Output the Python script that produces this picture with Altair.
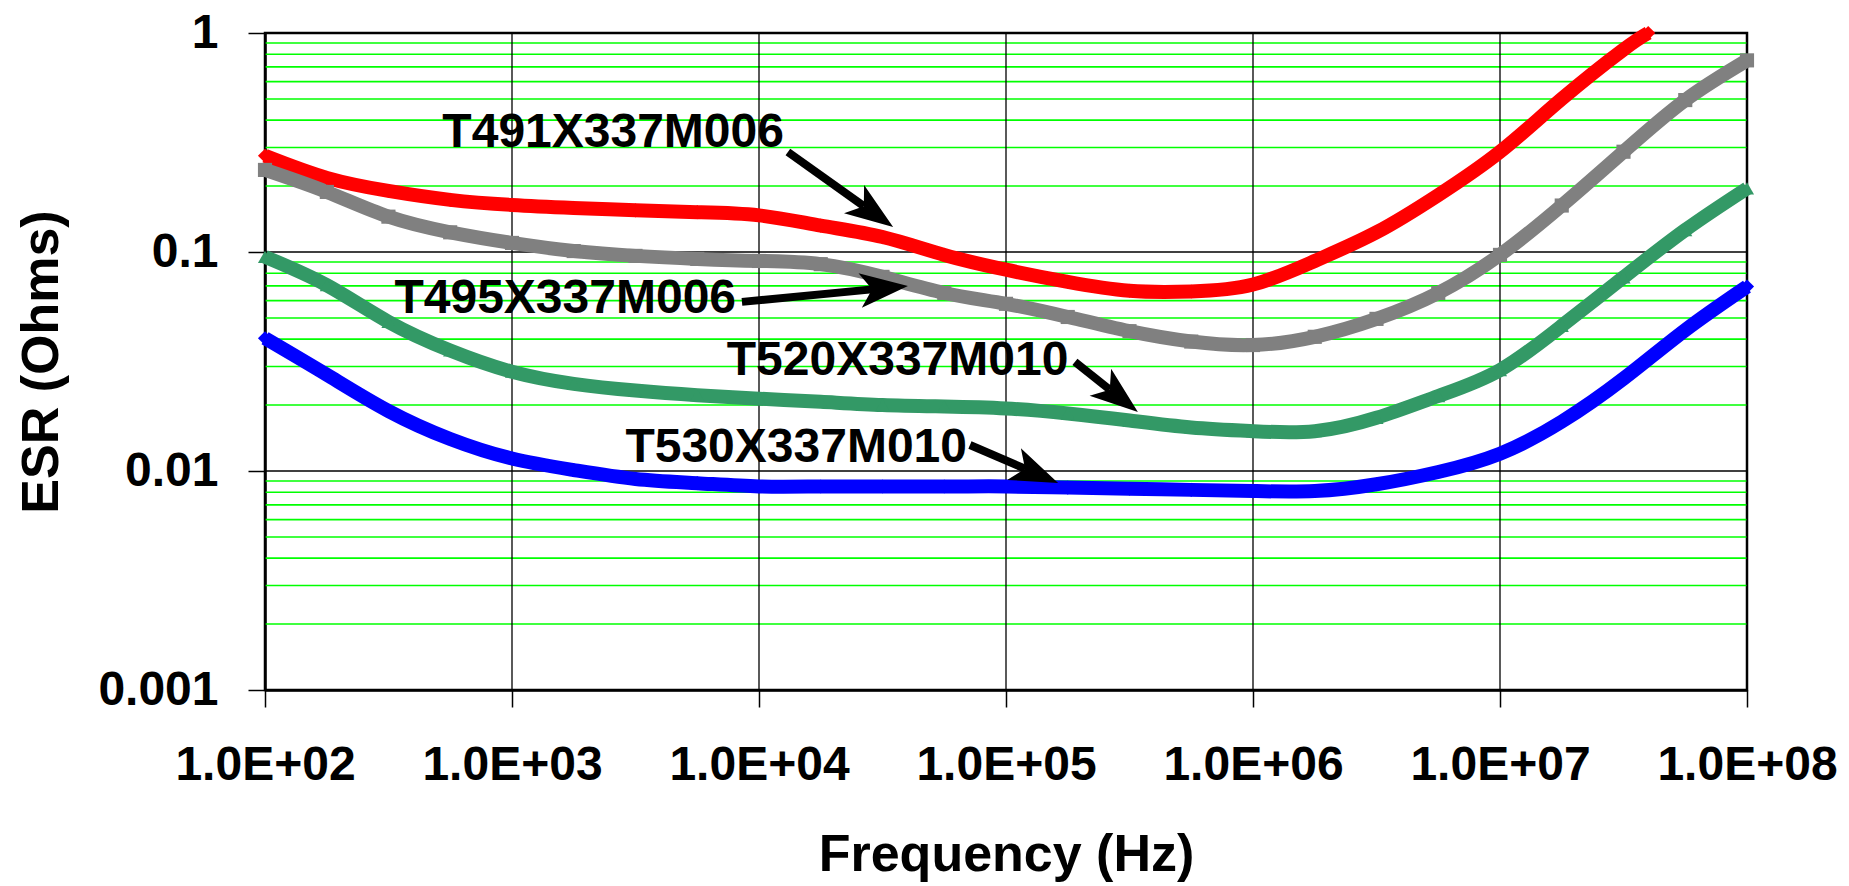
import math
import altair as alt
import pandas as pd

# ---------------- data ----------------
freq_hz = [100, 178, 316, 562, 1000, 1778, 3162, 5623, 10000, 17783, 31623, 56234,
           100000, 177828, 316228, 562341, 1000000, 1778279, 3162278, 5623413,
           10000000, 17782794, 31622777, 56234133, 100000000]
freq_t491 = freq_hz[:23] + [39810717]

esr_t491 = [0.275, 0.218, 0.19, 0.173, 0.164, 0.159, 0.155, 0.152, 0.147, 0.132, 0.117,
            0.097, 0.083, 0.073, 0.0665, 0.066, 0.071, 0.091, 0.123, 0.182, 0.287,
            0.50, 0.84, 1.0]
esr_t495 = [0.237, 0.188, 0.145, 0.123, 0.110, 0.101, 0.096, 0.093, 0.091, 0.088, 0.077,
            0.065, 0.058, 0.0505, 0.0435, 0.039, 0.0376, 0.041, 0.0495, 0.065, 0.097,
            0.163, 0.287, 0.494, 0.75]
esr_t520 = [0.095, 0.0705, 0.048, 0.0355, 0.0284, 0.025, 0.0233, 0.0222, 0.0214, 0.0207,
            0.0200, 0.0197, 0.0193, 0.0183, 0.0170, 0.0158, 0.0152, 0.0152, 0.0175, 0.022,
            0.0289, 0.046, 0.0766, 0.126, 0.195]
esr_t530 = [0.0404, 0.0275, 0.0188, 0.0140, 0.0114, 0.0101, 0.0092, 0.0088, 0.0085, 0.0085,
            0.0085, 0.0085, 0.0085, 0.0084, 0.0083, 0.0082, 0.0081, 0.0081, 0.0087, 0.0099,
            0.0120, 0.0168, 0.0264, 0.044, 0.0695]

series_names = ["T491X337M006", "T495X337M006", "T520X337M010", "T530X337M010"]
series_freqs = [freq_t491, freq_hz, freq_hz, freq_hz]
series_values = [esr_t491, esr_t495, esr_t520, esr_t530]
series_colors = ["#FF0000", "#808080", "#339966", "#0000FF"]
series_shapes = ["diamond", "square", "triangle-up", "diamond"]

x_tick_values = [1e2, 1e3, 1e4, 1e5, 1e6, 1e7, 1e8]
x_tick_labels = ["1.0E+02", "1.0E+03", "1.0E+04", "1.0E+05", "1.0E+06", "1.0E+07", "1.0E+08"]
y_tick_values = [0.001, 0.01, 0.1, 1]
y_tick_labels = ["0.001", "0.01", "0.1", "1"]
y_minor_values = [m * d for d in [0.001, 0.01, 0.1] for m in range(2, 10)]

# annotations (label right edge / baseline, arrow tail, arrow tip)
ann_labels = ["T491X337M006", "T495X337M006", "T520X337M010", "T530X337M010"]
ann_text_f = [12618, 8072, 178860, 69500]
ann_text_v = [0.3016, 0.0526, 0.02744, 0.01103]
ann_tail_f = [13092, 8531, 190108, 71450]
ann_tail_v = [0.2864, 0.0592, 0.0315, 0.01315]
ann_tip_f = [34914, 40087, 341979, 162555]
ann_tip_v = [0.1300, 0.0700, 0.01858, 0.00881]

# ---------------- layout ----------------
W, H = 1482, 657
FONT = "Liberation Sans"
HEAD_LEN = 48

xscale = alt.Scale(type="log", domain=[1e2, 1e8], nice=False)
yscale = alt.Scale(type="log", domain=[0.001, 1], nice=False)


def px(f):
    return (math.log10(f) - 2) / 6 * W


def py(v):
    return -math.log10(v) / 3 * H


def inv(xp, yp):
    return 10 ** (2 + xp / W * 6), 10 ** (-yp / H * 3)


def ternary(values, labels):
    expr = "'%s'" % labels[-1]
    for v, lab in reversed(list(zip(values[:-1], labels[:-1]))):
        expr = "datum.value < %r ? '%s' : (%s)" % (v * 3.0, lab, expr)
    return expr


rows = []
for name, fr, vals in zip(series_names, series_freqs, series_values):
    for i, (f, v) in enumerate(zip(fr, vals)):
        rows.append({"series": name, "freq": f, "esr": v, "idx": i})
curves = pd.DataFrame(rows)

arr_rows = []
for i in range(len(ann_labels)):
    x0, y0 = px(ann_tail_f[i]), py(ann_tail_v[i])
    x1, y1 = px(ann_tip_f[i]), py(ann_tip_v[i])
    dx, dy = x1 - x0, y1 - y0
    L = math.hypot(dx, dy)
    ux, uy = dx / L, dy / L
    bf, bv = inv(x1 - ux * HEAD_LEN * 0.75, y1 - uy * HEAD_LEN * 0.75)
    ang = math.degrees(math.atan2(dx, -dy)) % 360
    arr_rows.append({"label": ann_labels[i], "tf": ann_text_f[i], "tv": ann_text_v[i],
                     "f0": ann_tail_f[i], "v0": ann_tail_v[i], "f1": bf, "v1": bv,
                     "fh": ann_tip_f[i], "vh": ann_tip_v[i], "angle": ang})
ann = pd.DataFrame(arr_rows)

x_axis = alt.Axis(values=x_tick_values, labelExpr=ternary(x_tick_values, x_tick_labels),
                  title="Frequency (Hz)", grid=False, tickSize=17, labelPadding=34,
                  tickColor="black", tickWidth=1.5, domainColor="black", domainWidth=2.5,
                  labelFont=FONT, labelFontSize=48, labelFontWeight="bold", labelColor="black",
                  labelFlush=False, labelOverlap=False, labelLimit=0,
                  titleFont=FONT, titleFontSize=52, titleFontWeight="bold", titleColor="black",
                  titleX=W / 2, titleY=180, titleBaseline="alphabetic")
y_axis = alt.Axis(values=y_tick_values, labelExpr=ternary(y_tick_values, y_tick_labels),
                  title="ESR (Ohms)", grid=False, tickSize=17, labelPadding=30,
                  tickColor="black", tickWidth=1.5, domainColor="black", domainWidth=2.5,
                  labelFont=FONT, labelFontSize=48, labelFontWeight="bold", labelColor="black",
                  labelFlush=False, labelOverlap=False, labelBaseline="middle", labelLimit=0,
                  titleFont=FONT, titleFontSize=52, titleFontWeight="bold", titleColor="black",
                  titleAngle=270, titleX=-208, titleY=H / 2, titleBaseline="alphabetic",
                  titleAlign="center")

color = alt.Color("series:N", scale=alt.Scale(domain=series_names, range=series_colors), legend=None)

# first layer owns both axes; the other layers leave axis settings implicit
carrier = alt.Chart(curves).mark_point(opacity=0).encode(
    x=alt.X("freq:Q", scale=xscale, axis=x_axis),
    y=alt.Y("esr:Q", scale=yscale, axis=y_axis),
)

minor = alt.Chart(pd.DataFrame({"v": y_minor_values})).mark_rule(
    color="#00FF00", strokeWidth=1.6).encode(y=alt.Y("v:Q", scale=yscale))
hmajor = alt.Chart(pd.DataFrame({"v": y_tick_values})).mark_rule(
    color="black", strokeWidth=1.3).encode(y=alt.Y("v:Q", scale=yscale))
vmajor = alt.Chart(pd.DataFrame({"f": x_tick_values})).mark_rule(
    color="black", strokeWidth=1.3).encode(x=alt.X("f:Q", scale=xscale))

lines = alt.Chart(curves).mark_line(strokeWidth=14, interpolate="natural").encode(
    x=alt.X("freq:Q", scale=xscale),
    y=alt.Y("esr:Q", scale=yscale),
    color=color,
    detail="series:N",
    order="idx:Q",
)
points = alt.Chart(curves).mark_point(filled=True, opacity=1, size=200).encode(
    x=alt.X("freq:Q", scale=xscale),
    y=alt.Y("esr:Q", scale=yscale),
    color=color,
    shape=alt.Shape("series:N", scale=alt.Scale(domain=series_names, range=series_shapes), legend=None),
)

texts = alt.Chart(ann).mark_text(font=FONT, fontSize=48, fontWeight="bold", color="black",
                                 align="right", baseline="alphabetic").encode(
    x=alt.X("tf:Q", scale=xscale),
    y=alt.Y("tv:Q", scale=yscale),
    text="label:N",
)
shafts = alt.Chart(ann).mark_rule(color="black", strokeWidth=8, strokeCap="butt").encode(
    x=alt.X("f0:Q", scale=xscale), y=alt.Y("v0:Q", scale=yscale),
    x2="f1:Q", y2="v1:Q",
)
heads = alt.Chart(ann).mark_point(shape="M0,0 L0.72,2 L0,1.5 L-0.72,2 Z", filled=True,
                                  color="black", opacity=1, size=HEAD_LEN ** 2).encode(
    x=alt.X("fh:Q", scale=xscale), y=alt.Y("vh:Q", scale=yscale),
    angle=alt.Angle("angle:Q", scale=None),
)

chart = alt.layer(carrier, minor, hmajor, vmajor, lines, points, shafts, heads, texts).properties(
    width=W, height=H,
    autosize=alt.AutoSizeParams(type="none"),
    padding={"left": 265, "top": 33, "right": 102, "bottom": 196},
    background="white",
).configure_view(stroke="black", strokeWidth=2.5)

chart.save("out.html", embed_options={"renderer": "svg", "actions": False})
